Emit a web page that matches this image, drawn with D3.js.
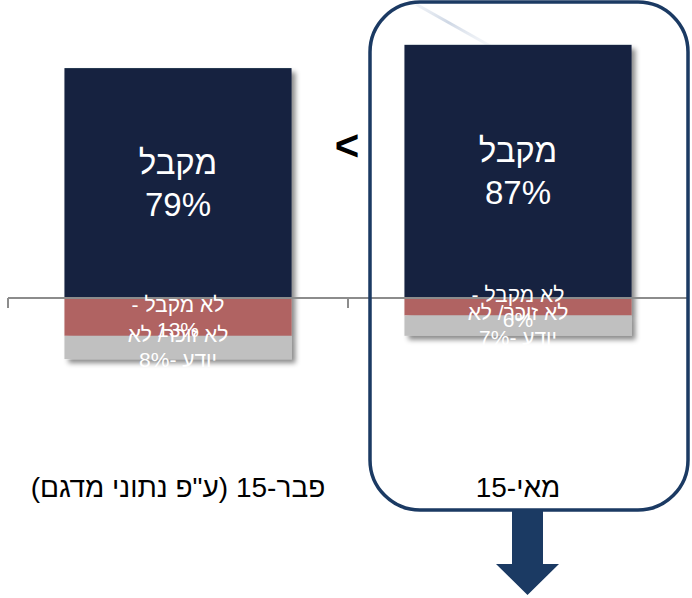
<!DOCTYPE html>
<html>
<head>
<meta charset="utf-8">
<script src="https://cdn.jsdelivr.net/npm/d3@7"></script>
<style>
  html, body { margin: 0; padding: 0; background: #ffffff; }
  svg { display: block; }
  text { font-family: "Liberation Sans", Arial, "DejaVu Sans", sans-serif; }
</style>
</head>
<body>
<svg id="chart" width="692" height="598"></svg>
<script>
// Survey periods and the share of answers in each
const categories = ['פבר-15 (ע"פ נתוני מדגם)', 'מאי-15'];
const seriesNames = ['מקבל', 'לא מקבל', 'לא זוכר/ לא יודע'];
const accept = [79, 87];
const reject = [13, 6];
const dontKnow = [8, 7];

const colors = { accept: '#12243f', reject: '#b06462', dontKnow: '#c0c0c0' };
const frameColor = '#1b3a63';

const svg = d3.select('#chart');

const x = d3.scaleBand().domain(categories).range([8, 688]).paddingInner(0.332).paddingOuter(0.166);
const y = d3.scaleLinear().domain([0, 100]).range([298, 7]);

const defs = svg.append('defs');
const shadow = defs.append('filter').attr('id', 'shadow')
  .attr('x', '-10%').attr('y', '-10%').attr('width', '130%').attr('height', '130%');
shadow.append('feDropShadow').attr('dx', 4).attr('dy', 4).attr('stdDeviation', 2.5)
  .attr('flood-color', '#000').attr('flood-opacity', 0.45);

const streak = defs.append('linearGradient').attr('id', 'streak')
  .attr('x1', '0%').attr('y1', '0%').attr('x2', '100%').attr('y2', '100%');
streak.append('stop').attr('offset', '0%').attr('stop-color', '#dfe5ee').attr('stop-opacity', 0.2);
streak.append('stop').attr('offset', '50%').attr('stop-color', '#c9d3e2').attr('stop-opacity', 0.9);
streak.append('stop').attr('offset', '100%').attr('stop-color', '#dfe5ee').attr('stop-opacity', 0.2);

// faint background streak
svg.append('line').attr('x1', 405).attr('y1', -2).attr('x2', 492).attr('y2', 47)
  .attr('stroke', 'url(#streak)').attr('stroke-width', 3);

// rows: one per category, stacked around the zero line
const rows = categories.map((c, i) => ({
  cat: c,
  segs: [
    { key: 'accept', name: seriesNames[0], v: accept[i], y0: 0, y1: accept[i] },
    { key: 'reject', name: seriesNames[1], v: reject[i], y0: -reject[i], y1: 0 },
    { key: 'dontKnow', name: seriesNames[2], v: dontKnow[i], y0: -reject[i] - dontKnow[i], y1: -reject[i] }
  ]
}));

const barG = svg.append('g').selectAll('g').data(rows).join('g').attr('filter', 'url(#shadow)');
barG.selectAll('rect').data(d => d.segs.map(s => ({ ...s, cat: d.cat }))).join('rect')
  .attr('x', d => x(d.cat))
  .attr('width', x.bandwidth())
  .attr('y', d => y(d.y1))
  .attr('height', d => y(d.y0) - y(d.y1))
  .attr('fill', d => colors[d.key]);

// zero line with category separators
const axisG = svg.append('g').attr('stroke', '#8c8c8c').attr('stroke-width', 2).attr('fill', 'none');
axisG.append('line').attr('x1', x.range()[0]).attr('x2', x.range()[1]).attr('y1', y(0)).attr('y2', y(0));
const bounds = [x.range()[0], x.range()[0] + x.step(), x.range()[1]];
axisG.selectAll('.tk').data(bounds).join('line').attr('class', 'tk')
  .attr('x1', d => d).attr('x2', d => d).attr('y1', y(0)).attr('y2', y(0) + 10);

// labels inside the segments
function lines(s) {
  if (s.key === 'accept') return [s.name, s.v + '%'];
  if (s.key === 'reject') return [s.name + ' -', s.v + '%'];
  const w = s.name.split(' ');
  return [w.slice(0, 3).join(' '), w.slice(3).join(' ') + ' -' + s.v + '%'];
}

rows.forEach((r, ri) => {
  const cx = x(r.cat) + x.bandwidth() / 2;
  r.segs.forEach((s, si) => {
    const cy = (y(s.y0) + y(s.y1)) / 2;
    const big = s.key === 'accept';
    const fs = big ? 33 : 21;
    const lh = big ? 42 : 25;
    const ls = lines(s);
    const g = svg.append('g');
    if (!big) {
      const id = 'clip' + ri + si;
      defs.append('clipPath').attr('id', id).append('rect')
        .attr('x', cx - 120).attr('width', 240).attr('y', cy - 25).attr('height', 46);
      g.attr('clip-path', 'url(#' + id + ')');
    }
    const t = g.append('text')
      .attr('direction', 'rtl')
      .attr('text-anchor', 'middle')
      .attr('fill', '#ffffff')
      .attr('font-size', fs)
      .attr('x', cx)
      .attr('y', cy - (ls.length - 1) * lh / 2 + fs * 0.35);
    ls.forEach((l, li) => {
      t.append('tspan').attr('x', cx).attr('dy', li === 0 ? 0 : lh).text(l);
    });
  });
});

// category labels
svg.append('g').selectAll('text').data(categories).join('text')
  .attr('direction', 'rtl')
  .attr('text-anchor', 'middle')
  .attr('x', d => x(d) + x.bandwidth() / 2)
  .attr('y', 497)
  .attr('font-size', 28)
  .attr('fill', '#000')
  .text(d => d);

// comparison sign between the periods
svg.append('text').attr('x', 347).attr('y', 160).attr('text-anchor', 'middle')
  .attr('font-size', 42).attr('font-weight', 'bold').attr('fill', '#000').text('<');

// highlight frame around the latest period and arrow below it
svg.append('rect').attr('x', 370).attr('y', 2).attr('width', 318).attr('height', 508)
  .attr('rx', 50).attr('ry', 50)
  .attr('fill', 'none').attr('stroke', frameColor).attr('stroke-width', 3.5);

const ax = 527.5;
svg.append('path')
  .attr('d', `M${ax - 15.5},510 L${ax + 15.5},510 L${ax + 15.5},564 L${ax + 31.5},564 L${ax},595 L${ax - 31.5},564 L${ax - 15.5},564 Z`)
  .attr('fill', frameColor);
</script>
</body>
</html>
